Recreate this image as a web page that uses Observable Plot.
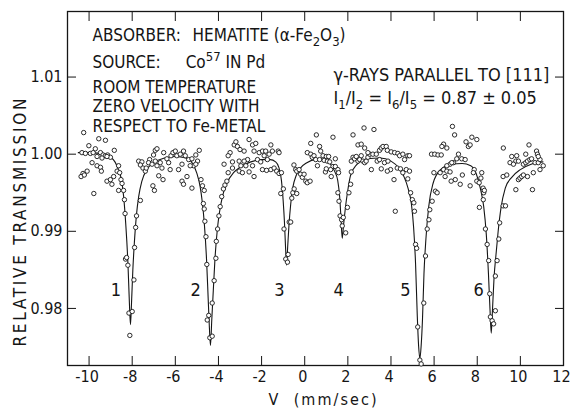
<!DOCTYPE html>
<html><head><meta charset="utf-8">
<script src="https://cdn.jsdelivr.net/npm/d3@7"></script>
<script src="https://cdn.jsdelivr.net/npm/@observablehq/plot@0.6"></script>
<style>
html,body{margin:0;padding:0;background:#fff;}
#chart{width:571px;height:409px;}
</style></head><body><div id="chart"></div>
<script>
// Observed counts: velocity (mm/sec) and relative transmission
const velocity = [
  -10.25,-9.55,-9.24,-10.01,-10.33,-10.17,-9.94,-9.81,-9.71,-9.47,
  -9.35,-9.24,-9.14,-9.01,-8.83,-9.40,-9.17,-9.63,-9.86,-9.63,
  -9.47,-9.43,-10.09,-10.28,-10.37,-10.22,-8.63,-8.70,-8.58,-8.86,
  -9.17,-9.01,-8.94,-8.63,-9.78,-8.52,-8.47,-8.40,-8.36,-8.33,
  -8.31,-8.26,-8.20,-8.15,-8.11,-8.00,-7.92,-7.89,-7.84,-7.80,-7.62,
  -7.70,-7.55,-7.62,-7.50,-7.39,-7.35,-7.19,-7.01,-6.93,-6.85,
  -7.24,-7.08,-6.93,-6.85,-6.70,-6.54,-6.39,-6.31,-6.20,-6.11,
  -6.00,-5.93,-5.77,-5.62,-5.54,-5.38,-5.23,-5.69,-5.85,-6.24,
  -6.62,-6.77,-6.57,-7.04,-6.97,-5.69,-5.62,-5.46,-5.23,-5.15,
  -5.31,-5.05,-4.89,-4.97,-5.05,-4.81,-4.74,-4.66,
  -4.70,-4.66,-4.63,-4.58,-4.54,-4.52,-4.45,-4.40,-4.29,-4.29,
  -4.20,-4.12,-4.10,-4.04,-3.98,-3.92,-3.85,-3.77,-3.70,
  -3.74,-3.46,-3.55,-3.35,-3.27,-3.19,-3.12,-3.00,-2.81,-2.58,
  -2.42,-2.27,-2.35,-2.11,-1.96,-1.81,-1.57,-1.50,-1.23,-1.19,
  -1.65,-1.88,-2.19,-2.65,-2.81,-3.04,-2.04,-1.73,-3.61,-3.55,
  -3.35,-3.04,-2.96,-2.89,-2.73,-2.42,-2.35,-2.58,-1.96,-1.77,
  -1.57,-1.42,-1.30,-1.19,-1.08,
  -1.11,-0.99,-0.96,-0.88,-0.80,-0.77,-0.72,-0.65,-0.60,-0.55,
  -0.49,-0.37,-0.50,-0.42,-0.37,-0.26,-0.19,-0.11,-0.03,0.05,
  0.12,0.25,0.28,0.12,0.28,0.35,0.43,0.51,0.59,0.54,
  1.31,0.69,0.74,0.69,0.85,1.00,1.11,1.42,0.90,1.05,
  1.16,1.31,1.42,1.54,1.57,1.20,0.96,1.00,1.23,
  1.54,1.59,1.64,1.71,1.79,1.74,1.90,1.98,2.05,2.13,2.16,
  2.16,2.24,2.31,2.39,2.47,2.55,2.62,2.70,2.78,2.85,
  2.93,3.01,2.47,2.62,2.78,2.93,3.16,3.32,3.47,3.55,
  3.63,3.78,3.83,4.01,4.17,4.32,4.40,4.55,4.63,4.78,
  4.86,3.36,3.47,3.70,3.86,3.98,3.83,3.55,3.09,4.14,
  4.29,4.44,4.55,4.71,4.86,4.20,2.24,2.75,3.21,
  4.78,4.91,4.99,5.06,5.09,5.14,5.19,5.24,5.34,5.40,
  5.52,5.60,5.68,5.76,5.80,5.91,5.99,6.06,6.14,
  5.88,6.03,6.18,6.33,
  6.85,6.95,6.44,6.36,6.59,7.48,7.59,7.75,7.98,7.67,
  7.13,7.05,7.28,7.44,6.90,6.74,6.59,6.82,6.44,6.59,
  6.28,6.51,6.74,6.98,6.79,7.31,7.21,7.67,7.86,7.82,
  7.98,8.09,8.17,8.21,8.27,8.30,8.33,8.28,8.10,
  8.38,8.46,8.53,8.58,8.61,8.69,8.76,8.84,8.84,8.92,
  9.00,9.04,9.20,9.31,9.20,
  9.37,9.52,9.60,9.79,9.91,10.14,10.25,10.33,10.44,10.52,
  10.68,10.83,10.91,11.06,10.75,10.79,10.83,10.40,10.25,9.83,
  9.21,9.91,9.98,10.06,10.14,10.33,10.60,10.91,9.79,10.56,9.68
];
const transmission = [
  1.0028,1.0020,1.0018,1.0011,1.0002,1.0001,1.0001,1.0002,1.0007,1.0002,
  0.9999,0.9998,0.9999,0.9996,1.0005,0.9995,0.9997,0.9997,0.9989,0.9985,
  0.9983,0.9978,0.9978,0.9975,0.9971,0.9973,0.9985,0.9978,0.9976,0.9971,
  0.9965,0.9967,0.9961,0.9953,0.9949,0.9967,0.9962,0.9953,0.9941,0.9923,
  0.9864,0.9866,0.9856,0.9794,0.9765,0.9796,0.9837,0.9879,0.9905,0.9920,0.9940,
  0.9991,0.9990,0.9986,0.9982,0.9978,0.9982,0.9993,0.9999,1.0005,1.0007,
  0.9989,0.9987,0.9991,0.9985,0.9989,1.0002,0.9994,0.9989,0.9998,1.0002,
  1.0004,0.9998,1.0000,1.0004,0.9998,0.9993,0.9994,0.9987,0.9980,0.9980,
  0.9982,0.9972,0.9967,0.9959,0.9953,0.9965,0.9961,0.9971,0.9956,0.9985,
  0.9985,0.9999,1.0005,0.9991,0.9987,0.9967,0.9959,0.9953,
  0.9936,0.9929,0.9913,0.9893,0.9857,0.9785,0.9791,0.9762,0.9764,0.9807,
  0.9836,0.9865,0.9887,0.9903,0.9920,0.9932,0.9945,0.9955,0.9960,
  0.9987,1.0002,0.9998,0.9990,1.0012,1.0016,1.0010,1.0006,1.0004,1.0019,
  1.0012,1.0014,1.0004,1.0002,1.0004,1.0004,1.0012,1.0004,1.0004,1.0002,
  1.0000,0.9998,0.9993,0.9993,0.9991,0.9991,0.9990,0.9993,0.9965,0.9976,
  0.9982,0.9978,0.9985,0.9976,0.9985,0.9985,0.9971,0.9977,0.9980,0.9979,
  0.9980,0.9982,0.9978,0.9975,0.9976,
  0.9949,0.9955,0.9903,0.9864,0.9860,0.9870,0.9912,0.9912,0.9943,0.9950,
  0.9955,0.9949,0.9986,0.9980,0.9978,0.9980,0.9974,0.9970,0.9974,0.9965,
  0.9963,0.9965,1.0014,1.0002,1.0000,0.9996,0.9998,0.9993,0.9985,1.0025,
  1.0022,1.0010,1.0004,0.9993,0.9998,0.9997,0.9997,0.9994,0.9992,0.9991,
  0.9990,0.9984,0.9984,0.9980,0.9976,0.9980,0.9977,0.9981,0.9971,
  0.9950,0.9939,0.9920,0.9915,0.9918,0.9907,0.9898,0.9931,0.9950,0.9961,0.9977,
  0.9991,0.9996,0.9994,0.9997,0.9991,0.9993,0.9998,0.9991,0.9989,0.9991,
  0.9996,1.0000,1.0012,1.0013,1.0008,1.0002,1.0000,1.0000,1.0005,1.0008,
  1.0010,1.0010,1.0005,1.0003,1.0002,1.0001,0.9998,1.0000,0.9993,0.9998,
  0.9998,0.9991,0.9993,0.9989,0.9991,0.9980,0.9978,0.9981,0.9980,0.9967,
  0.9982,0.9981,0.9976,0.9980,0.9978,0.9926,1.0025,1.0034,1.0032,
  0.9968,0.9950,0.9941,0.9937,0.9926,0.9883,0.9878,0.9776,0.9733,0.9728,
  0.9807,0.9868,0.9903,0.9915,0.9928,0.9939,0.9976,0.9952,0.9950,
  1.0000,1.0000,0.9999,0.9999,
  1.0036,1.0025,1.0013,1.0010,1.0008,1.0016,1.0010,1.0022,1.0019,1.0012,
  1.0000,0.9994,0.9994,0.9993,0.9989,0.9987,0.9985,0.9989,0.9980,0.9978,
  0.9976,0.9971,0.9977,0.9967,0.9965,0.9973,0.9961,0.9959,0.9980,0.9976,
  0.9965,0.9963,0.9969,0.9976,0.9956,0.9950,0.9953,0.9941,0.9931,
  0.9903,0.9883,0.9862,0.9819,0.9789,0.9784,0.9780,0.9797,0.9842,0.9862,
  0.9890,0.9911,0.9933,0.9933,0.9971,
  0.9973,0.9989,0.9997,0.9991,0.9991,0.9987,0.9989,0.9991,0.9993,0.9994,
  0.9989,0.9989,0.9993,0.9985,1.0004,1.0000,0.9997,1.0012,1.0000,0.9998,
  1.0008,0.9967,0.9969,0.9971,0.9973,0.9971,0.9976,0.9980,0.9954,0.9954,0.9987
];
// Fitted curve
const fitVelocity = [
  -10.5,-10,-9.5,-9.0,-8.8,-8.65,-8.5,-8.4,-8.3,-8.2,-8.14,-8.08,-8.03,-7.97,-7.9,-7.8,-7.7,-7.55,-7.3,-7.0,
  -6.5,-6.0,-5.5,-5.2,-5.0,-4.85,-4.75,-4.65,-4.55,-4.48,-4.42,-4.37,-4.31,-4.24,-4.16,-4.05,-3.95,-3.8,-3.6,-3.3,
  -3.0,-2.5,-2.0,-1.6,-1.35,-1.2,-1.08,-1.0,-0.94,-0.89,-0.84,-0.79,-0.73,-0.65,-0.55,-0.4,-0.2,0.1,0.5,0.9,
  1.2,1.4,1.53,1.62,1.68,1.74,1.8,1.88,1.98,2.12,2.4,2.9,3.5,4.0,4.4,4.6,4.8,4.95,5.05,5.14,
  5.22,5.28,5.34,5.40,5.46,5.53,5.62,5.75,5.95,6.3,6.8,7.3,7.7,7.95,8.15,8.3,8.42,8.52,8.59,8.65,
  8.71,8.78,8.87,8.97,9.1,9.3,9.6,10.0,10.5,11.05
];
const fitTransmission = [
  1.0002,1.0002,1.0001,0.9996,0.9990,0.9981,0.9967,0.9946,0.9910,0.9860,0.9815,0.9779,0.9808,0.9850,0.9885,0.9922,0.9945,0.9965,0.9981,0.9989,
  0.9995,0.9997,0.9995,0.9988,0.9975,0.9958,0.9938,0.9908,0.9862,0.9815,0.9775,0.9752,0.9785,0.9823,0.9865,0.9903,0.9925,0.9947,0.9963,0.9976,
  0.9983,0.9990,0.9993,0.9993,0.9990,0.9983,0.9966,0.9940,0.9912,0.9880,0.9856,0.9880,0.9908,0.9935,0.9957,0.9972,0.9982,0.9989,0.9993,0.9993,
  0.9987,0.9977,0.9966,0.9945,0.9918,0.9891,0.9908,0.9929,0.9950,0.9972,0.9986,0.9994,0.9995,0.9991,0.9981,0.9971,0.9955,0.9935,0.9905,0.9858,
  0.9790,0.9752,0.9735,0.9752,0.9785,0.9845,0.9890,0.9932,0.9962,0.9980,0.9987,0.9988,0.9985,0.9975,0.9955,0.9932,0.9896,0.9845,0.9800,0.9768,
  0.9800,0.9840,0.9870,0.9900,0.9930,0.9956,0.9970,0.9980,0.9987,0.9990
];
const xTicks = [-10,-8,-6,-4,-2,0,2,4,6,8,10,12];
const yTicks = [0.98,0.99,1.00,1.01];
const peakNumber = ["1","2","3","4","5","6"];
const peakLabelV = [-8.75,-5.06,-1.17,1.57,4.67,8.06];
const peakLabelT = 0.9823;
// conditions block (upper left)
const conditionText = ["ABSORBER:","HEMATITE (α-Fe_2O_3)","SOURCE:","Co^57 IN Pd","ROOM TEMPERATURE","ZERO VELOCITY WITH","RESPECT TO Fe-METAL"];
const conditionV = [-9.84,-5.20,-9.84,-5.52,-9.84,-9.84,-9.84];
const conditionT = [1.0154,1.0154,1.0119,1.0119,1.0087,1.0062,1.0036];
// geometry block (upper right)
const geometryText = ["γ-RAYS PARALLEL TO [111]","I_1/I_2 = I_6/I_5 = 0.87 ± 0.05"];
const geometryV = [1.33,1.33];
const geometryT = [1.0103,1.0073];
const yLabel = "RELATIVE TRANSMISSION";
const xLabel = "V\u00a0\u00a0(mm/sec)";

if (velocity.length !== transmission.length) throw new Error("len " + velocity.length + " vs " + transmission.length);
if (fitVelocity.length !== fitTransmission.length) throw new Error("fit len " + fitVelocity.length + " vs " + fitTransmission.length);

const FONT = "'DejaVu Sans Condensed','Liberation Sans Narrow',sans-serif";
const obs = velocity.map((v, i) => ({v, t: transmission[i]}));
const fit = fitVelocity.map((v, i) => ({v, t: fitTransmission[i]}));
const peaks = peakNumber.map((n, i) => ({n, v: peakLabelV[i], t: peakLabelT}));
const conditions = conditionText.map((s, i) => ({s, v: conditionV[i], t: conditionT[i]}));
const geometry = geometryText.map((s, i) => ({s, v: geometryV[i], t: geometryT[i]}));
const INK = "#151515";

const chart = Plot.plot({
  width: 571, height: 409,
  marginLeft: 67, marginRight: 8, marginTop: 11, marginBottom: 44,
  style: {fontFamily: FONT, fontSize: "17px", color: INK, background: "#fff"},
  x: {domain: [-11, 12]},
  y: {domain: [0.9726, 1.0185]},
  marks: [
    Plot.axisX(xTicks, {anchor: "bottom", tickSize: 9, dy: -9, tickFormat: () => "", label: null, stroke: INK}),
    Plot.axisX(xTicks, {anchor: "top", tickSize: 9, dy: 9, tickFormat: () => "", label: null, stroke: INK}),
    Plot.axisY(yTicks, {anchor: "left", tickSize: 9, dx: 9, tickFormat: () => "", label: null, stroke: INK}),
    Plot.axisY(yTicks, {anchor: "right", tickSize: 9, dx: -9, tickFormat: () => "", label: null, stroke: INK}),
    Plot.axisX(xTicks, {anchor: "bottom", tickSize: 0, tickPadding: 5, fontSize: 16, dx: -2, label: null,
      tickFormat: d => d < 0 ? "-" + (-d) : String(d)}),
    Plot.axisY(yTicks, {anchor: "left", tickSize: 0, tickPadding: 5, fontSize: 16, label: null,
      tickFormat: d => d.toFixed(2)}),
    Plot.frame({stroke: INK, strokeWidth: 1.3}),
    Plot.line(fit, {x: "v", y: "t", curve: "monotone-x", stroke: INK, strokeWidth: 1.1}),
    Plot.dot(obs, {x: "v", y: "t", r: 2.2, stroke: INK, fill: "white", strokeWidth: 0.9}),
    Plot.text(peaks, {x: "v", y: "t", text: "n", fontSize: 18, fill: INK}),
    Plot.text(conditions, {x: "v", y: "t", text: "s", textAnchor: "start", fontSize: 17, fill: INK}),
    Plot.text(geometry, {x: "v", y: "t", text: "s", textAnchor: "start", fontSize: 18, fill: INK}),
    Plot.text([yLabel], {frameAnchor: "left", text: d => d, rotate: -90, textAnchor: "middle", lineAnchor: "middle",
      dx: -47, dy: 34, fontSize: 17, fill: INK}),
    Plot.text([xLabel], {frameAnchor: "bottom", text: d => d, textAnchor: "middle", lineAnchor: "middle",
      dx: 7, dy: 34, fontSize: 16, fill: INK})
  ]
});
document.getElementById("chart").append(chart);

// sub/superscripts and label widths
const SVGNS = "http://www.w3.org/2000/svg";
d3.select(chart).selectAll("text").each(function () {
  const s = this.textContent;
  if (s === yLabel) { this.setAttribute("textLength", 248); this.setAttribute("lengthAdjust", "spacing"); return; }
  if (s === xLabel) { this.setAttribute("textLength", 108); this.setAttribute("lengthAdjust", "spacing"); return; }
  if (!/[_^]\d/.test(s)) return;
  const parts = s.split(/([_^]\d+)/).filter(p => p !== "");
  this.textContent = "";
  let shift = 0;
  for (const p of parts) {
    const ts = document.createElementNS(SVGNS, "tspan");
    let target = 0;
    if (p[0] === "_") { target = 5; ts.textContent = p.slice(1); ts.setAttribute("font-size", "13"); }
    else if (p[0] === "^") { target = -7; ts.textContent = p.slice(1); ts.setAttribute("font-size", "13"); }
    else ts.textContent = p;
    const d = target - shift;
    if (d) ts.setAttribute("dy", d);
    shift = target;
    this.appendChild(ts);
  }
});
</script></body></html>
